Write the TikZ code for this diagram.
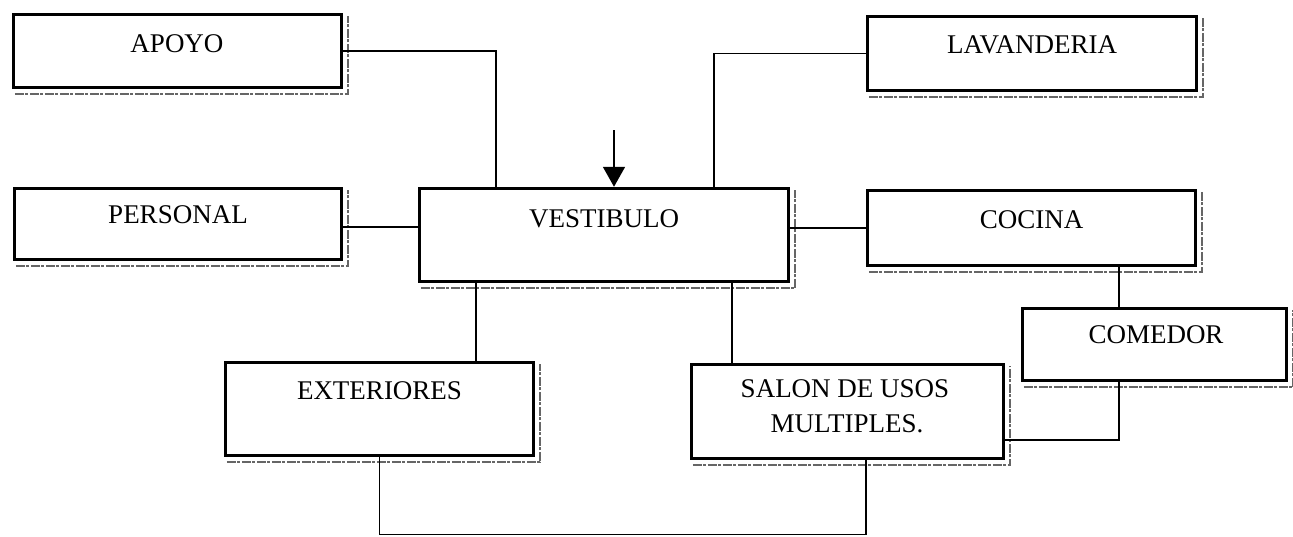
\documentclass[tikz,border=0pt]{standalone}
\usepackage{fontspec}
\setmainfont{Liberation Serif}
\usetikzlibrary{arrows.meta,calc}
\tikzset{
  box/.style={draw=black, line width=3.5pt, rectangle, inner sep=0pt, fill=white},
  txt/.style={anchor=base, inner sep=0pt, font=\fontsize{27}{35}\selectfont, align=center},
  conn/.style={draw=black, line width=1.8pt},
  shd/.style={draw=black!60, line width=2pt, dash pattern=on 9pt off 1.5pt on 3pt off 1.5pt}
}
\newcommand{\shadowof}[1]{\draw[shd] ([shift={(3pt,-5pt)}]#1.south west) -- ([shift={(5pt,-5pt)}]#1.south east) -- ([shift={(5pt,-3pt)}]#1.north east);}
\begin{document}
\begin{tikzpicture}[x=1pt,y=-1pt]
\useasboundingbox (0,0) rectangle (1293,536);
% boxes
\node[box, minimum width=328pt, minimum height=73pt] (apoyo) at (177.5,51) {};
\node[box, minimum width=327pt, minimum height=71pt] (pers) at (178,224) {};
\node[box, minimum width=369pt, minimum height=93pt] (vest) at (604,235) {};
\node[box, minimum width=329pt, minimum height=74pt] (lav) at (1032,53.5) {};
\node[box, minimum width=328pt, minimum height=75pt] (coc) at (1031.5,228) {};
\node[box, minimum width=264pt, minimum height=72pt] (com) at (1154.5,344.5) {};
\node[box, minimum width=308pt, minimum height=93pt] (ext) at (379.5,409) {};
\node[box, minimum width=312pt, minimum height=94pt] (sal) at (847.5,411.5) {};
% shadows
\shadowof{apoyo}
\shadowof{pers}
\shadowof{vest}
\shadowof{lav}
\shadowof{coc}
\shadowof{com}
\shadowof{ext}
\shadowof{sal}
% texts
\node[txt] (tapoyo) at (177,52) {APOYO};
\node[txt] (tpers) at (178,223) {PERSONAL};
\node[txt] (tvest) at (604,227) {VESTIBULO};
\node[txt] (tlav) at (1032,53) {LAVANDERIA};
\node[txt] (tcoc) at (1031.5,228) {COCINA};
\node[txt] (tcom) at (1156,343) {COMEDOR};
\node[txt] (text) at (379.5,399) {EXTERIORES};
\node[txt] (tsal1) at (845,397) {SALON DE USOS};
\node[txt] (tsal2) at (847,432) {MULTIPLES.};
% connectors
\draw[conn] (apoyo.east) -| ([xshift=78.5pt]vest.north west);
\draw[conn] (lav.west) -| ([xshift=-76.5pt]vest.north east);
\coordinate (p1) at ([yshift=-3pt]pers.east);
\draw[conn] (p1) -- (vest.west |- p1);
\draw[conn] (vest.east |- coc.west) -- (coc.west);
\coordinate (v1) at ([xshift=58.5pt]vest.south west);
\draw[conn] (v1) -- (v1 |- ext.north);
\coordinate (v2) at ([xshift=-58.5pt]vest.south east);
\draw[conn] (v2) -- (v2 |- sal.north);
\coordinate (c1) at ([xshift=-78.5pt]coc.south east);
\draw[conn] (c1) -- (c1 |- com.north);
\coordinate (c2) at (c1 |- com.south);
\coordinate (s1) at ([yshift=-28.5pt]sal.east);
\draw[conn] (c2) |- (s1);
\coordinate (floor) at (600,534.5);
\coordinate (s2) at ([xshift=18.5pt]sal.south);
\draw[conn] (ext.south) -- (ext.south |- floor) -| (s2);
\coordinate (arrtop) at (614,130);
\draw[conn, -{Triangle[width=22pt,length=20pt]}] (arrtop) -- (arrtop |- vest.north);
\end{tikzpicture}
\end{document}
